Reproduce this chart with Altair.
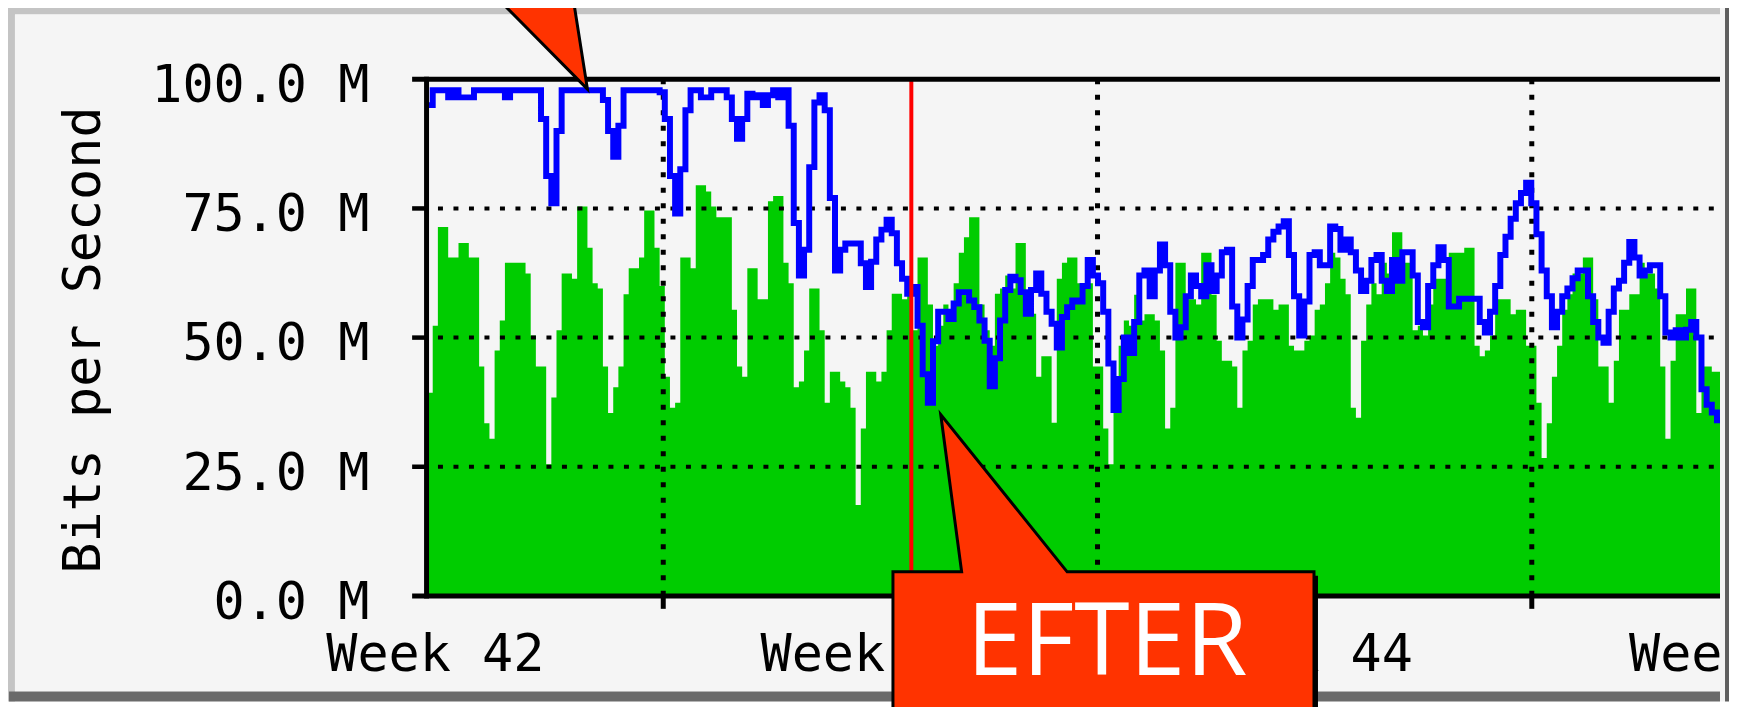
import altair as alt
import pandas as pd

# ---------------- data (one value per 2-hour column, Mbit/s) ----------------
green = [
    39.3, 52.3, 71.4, 71.4, 65.5, 65.5, 68.3, 68.3, 65.5, 65.5,
    44.4, 33.4, 30.4, 47.5, 53.3, 64.5, 64.5, 64.5, 64.5, 62.4,
    50.4, 44.4, 44.4, 25.5, 38.4, 51.4, 62.4, 62.4, 61.4, 75.4,
    75.4, 67.4, 60.5, 59.5, 44.4, 35.4, 40.4, 44.4, 58.4, 63.4,
    63.4, 65.5, 74.6, 74.6, 67.4, 60.0, 42.4, 36.4, 37.4, 65.5,
    65.5, 63.4, 79.5, 79.5, 78.3, 75.4, 73.3, 73.3, 73.3, 55.4,
    44.4, 42.4, 63.4, 63.4, 57.4, 57.4, 76.4, 77.4, 77.4, 64.5,
    60.5, 40.4, 41.5, 47.5, 59.5, 59.5, 51.4, 37.4, 43.4, 43.4,
    41.5, 40.4, 36.4, 17.6, 32.4, 43.4, 43.4, 41.5, 43.4, 51.4,
    58.5, 58.5, 57.4, 60.0, 51.4, 65.5, 65.5, 56.4, 48.4, 52.3,
    56.4, 55.4, 60.5, 66.4, 69.4, 73.3, 73.3, 56.4, 51.4, 48.4,
    58.5, 59.5, 62.0, 59.5, 68.3, 68.3, 57.4, 54.6, 42.4, 46.4,
    46.4, 33.5, 61.4, 64.5, 65.5, 65.5, 60.5, 60.5, 60.5, 44.4,
    44.4, 32.4, 25.5, 38.4, 48.4, 53.3, 52.3, 58.3, 53.3, 54.5,
    54.5, 53.3, 47.5, 32.4, 36.4, 64.5, 64.5, 57.4, 57.4, 56.4,
    66.4, 66.4, 58.3, 49.4, 45.5, 45.5, 44.4, 36.4, 47.5, 49.4,
    56.4, 57.4, 57.4, 57.4, 55.4, 56.4, 56.4, 48.4, 47.5, 47.5,
    49.4, 50.4, 55.4, 56.4, 60.5, 66.4, 65.5, 61.4, 58.4, 36.4,
    34.5, 49.4, 56.4, 60.5, 58.4, 64.5, 62.4, 70.4, 70.4, 64.5,
    64.5, 51.4, 52.3, 50.4, 56.4, 61.4, 61.4, 61.4, 66.4, 66.4,
    66.4, 67.4, 67.4, 48.4, 46.4, 47.5, 50.4, 57.4, 57.4, 57.4,
    54.5, 55.4, 55.4, 48.4, 48.4, 37.4, 26.7, 33.4, 42.4, 48.4,
    55.4, 58.4, 62.4, 62.4, 65.5, 65.5, 57.4, 44.4, 44.4, 37.4,
    45.5, 55.4, 55.4, 58.4, 58.4, 64.5, 62.4, 62.4, 59.5, 44.4,
    30.4, 45.5, 54.5, 54.5, 59.5, 59.5, 35.4, 44.4, 44.4, 43.4,
    43.4,
]
blue = [
    95.0, 97.9, 97.9, 97.9, 96.5, 97.9, 96.5, 96.5, 96.5, 97.9,
    97.9, 97.9, 97.9, 97.9, 97.9, 96.5, 97.9, 97.9, 97.9, 97.9,
    97.9, 97.9, 92.3, 81.3, 76.0, 90.0, 97.9, 97.9, 97.9, 97.9,
    97.9, 97.9, 97.9, 97.9, 96.0, 90.0, 85.0, 91.0, 97.9, 97.9,
    97.9, 97.9, 97.9, 97.9, 97.9, 97.5, 92.3, 81.3, 74.0, 82.6,
    94.0, 97.9, 97.9, 96.5, 96.5, 97.9, 97.9, 97.9, 96.5, 92.3,
    88.5, 92.3, 97.2, 96.5, 96.9, 95.0, 96.9, 97.9, 96.5, 97.9,
    91.0, 72.2, 62.0, 67.0, 83.0, 95.5, 96.9, 94.0, 77.0, 63.0,
    67.0, 68.2, 68.2, 68.2, 64.4, 59.8, 64.7, 69.0, 70.9, 72.8,
    70.2, 64.4, 61.4, 58.5, 59.8, 52.3, 42.9, 37.4, 49.3, 55.0,
    55.0, 53.6, 56.6, 58.8, 58.8, 57.2, 55.9, 53.3, 49.4, 40.6,
    46.0, 53.3, 59.2, 61.8, 61.1, 58.8, 54.6, 59.2, 62.4, 58.5,
    55.0, 52.7, 48.1, 54.0, 55.9, 57.2, 57.0, 60.0, 65.0, 62.0,
    60.5, 55.0, 45.0, 36.0, 42.0, 50.0, 47.0, 53.0, 62.0, 63.0,
    58.0, 63.0, 68.0, 64.0, 55.0, 50.0, 52.0, 58.0, 62.0, 60.0,
    58.0, 64.0, 59.0, 62.0, 66.5, 67.0, 56.0, 50.0, 53.5, 60.0,
    65.0, 65.0, 66.0, 69.0, 70.5, 71.5, 72.5, 66.0, 58.0, 50.4,
    57.0, 66.0, 66.5, 64.0, 64.0, 71.5, 71.0, 67.0, 69.0, 66.5,
    63.0, 59.0, 61.0, 65.0, 66.0, 61.0, 59.0, 65.0, 61.0, 66.5,
    66.5, 62.0, 53.0, 52.0, 60.0, 64.0, 67.5, 65.0, 56.0, 56.0,
    57.5, 57.5, 57.5, 57.5, 53.0, 51.0, 55.0, 60.0, 66.0, 69.5,
    73.0, 76.0, 78.0, 80.0, 76.0, 70.0, 63.0, 58.0, 52.0, 55.0,
    58.0, 59.5, 61.5, 63.0, 63.0, 58.0, 53.0, 50.0, 49.0, 55.0,
    59.5, 61.0, 64.5, 68.5, 65.5, 62.0, 63.0, 64.0, 64.0, 58.0,
    51.0, 50.0, 51.4, 50.0, 51.5, 53.0, 50.0, 40.0, 37.0, 35.5,
    34.0,
]
y_ticks = [0, 25, 50, 75, 100]
y_tick_labels = ["0.0 M", "25.0 M", "50.0 M", "75.0 M", "100.0 M"]
grid_values = [25, 50, 75]
week_starts = [45.7, 129.9, 214.1]
week_label_pos = [1.5, 85.7, 169.9, 254.1]
week_labels = ["Week 42", "Week 43", "Week 44", "Week 45"]
marker_col = 93.8
before_tip = [31.0, 98.1]
after_tip = [99.5, 35.1]
y_title = "Bits per Second"
after_text = "EFTER"

# ---------------- chart ----------------
W, H = 1300, 519
MONO = "DejaVu Sans Mono"
FS = 52
xs = alt.Scale(domain=[-0.29, 250.6], nice=False, zero=False)
ys = alt.Scale(domain=[0, 100], nice=False, zero=False)

n = len(green)
df = pd.DataFrame({
    "k": list(range(n)) + [n],
    "inb": green + [green[-1]],
    "outb": blue + [blue[-1]],
})
one = pd.DataFrame({"a": [0]})


def X(field):
    return alt.X(field, type="quantitative", scale=xs, axis=None)


def Y(field):
    return alt.Y(field, type="quantitative", scale=ys, axis=None)


def box(x1, x2, y1, y2, color):
    return alt.Chart(one).mark_rect(color=color).encode(
        x=alt.value(x1), x2=alt.value(x2), y=alt.value(y1), y2=alt.value(y2)
    )


frame = [
    box(-424, W, -75, -65, "#c4c4c4"),
    box(-424, -413, -75, 625, "#c4c4c4"),
    box(-413, W, -65, 615, "#f5f5f5"),
    box(-419, W, 615, 625, "#6a6a6a"),
]

area = alt.Chart(df).mark_area(interpolate="step-after", color="#00cc00", clip=True).encode(
    x=X("k"), y=Y("inb")
)

hgrid = alt.Chart(pd.DataFrame({"v": grid_values})).mark_rule(
    color="black", strokeWidth=4, strokeDash=[5, 10.57], strokeDashOffset=3.6
).encode(y=Y("v"), x=alt.value(0), x2=alt.value(W))

vgrid = alt.Chart(pd.DataFrame({"k": week_starts, "top": [100] * 3, "bot": [0] * 3})).mark_rule(
    color="black", strokeWidth=5, strokeDash=[5, 10.57]
).encode(x=X("k"), y=Y("top"), y2="bot:Q")

line = alt.Chart(df).mark_line(
    interpolate="step-after", color="#0000ff", strokeWidth=6, clip=True
).encode(x=X("k"), y=Y("outb"))

red = alt.Chart(pd.DataFrame({"k": [marker_col], "top": [100], "bot": [0]})).mark_rule(
    color="#ff0000", strokeWidth=4
).encode(x=X("k"), y=Y("top"), y2="bot:Q")

hlines = alt.Chart(pd.DataFrame({"v": [0, 100]})).mark_rule(color="black", strokeWidth=5).encode(
    y=Y("v"), x=alt.value(-14), x2=alt.value(W)
)
vaxis = alt.Chart(one).mark_rule(color="black", strokeWidth=5).encode(
    x=alt.value(0.5), y=alt.value(-2.5), y2=alt.value(H + 2.5)
)
yticks = alt.Chart(pd.DataFrame({"v": grid_values})).mark_rule(color="black", strokeWidth=4.5).encode(
    y=Y("v"), x=alt.value(-14), x2=alt.value(0)
)
xticks = alt.Chart(pd.DataFrame({"k": week_starts})).mark_rule(color="black", strokeWidth=5).encode(
    x=X("k"), y=alt.value(H), y2=alt.value(H + 13)
)

ylabels = alt.Chart(pd.DataFrame({"v": y_ticks, "t": y_tick_labels})).mark_text(
    align="right", baseline="alphabetic", font=MONO, fontSize=FS, dy=23, color="black"
).encode(y=Y("v"), x=alt.value(-57), text="t:N")

xlabels = alt.Chart(pd.DataFrame({"k": week_label_pos, "t": week_labels})).mark_text(
    align="center", baseline="alphabetic", font=MONO, fontSize=FS, color="black"
).encode(x=X("k"), y=alt.value(594), text="t:N")

ytitle = alt.Chart(one).mark_text(
    angle=270, align="center", baseline="alphabetic", font=MONO, fontSize=FS,
    color="black", text=y_title
).encode(x=alt.value(-328), y=alt.value(262))

bdf = pd.DataFrame({"k": [before_tip[0]], "v": [before_tip[1]]})
adf = pd.DataFrame({"k": [after_tip[0]], "v": [after_tip[1]]})

before_arrow = alt.Chart(bdf).mark_point(
    shape="M0,0L-107,-108L-17,-108Z", size=4, filled=True, fill="#ff3300",
    stroke="black", strokeWidth=3, opacity=1, fillOpacity=1, strokeOpacity=1
).encode(x=X("k"), y=Y("v"))

after_shadow = alt.Chart(adf).mark_point(
    shape="M-44,162L379,162L379,330L-44,330Z", size=4, filled=True, fill="black",
    opacity=1, fillOpacity=1
).encode(x=X("k"), y=Y("v"))

after_box = alt.Chart(adf).mark_point(
    shape="M-48,158L21,158L0,0L127,158L375,158L375,330L-48,330Z", size=4, filled=True,
    fill="#ff3300", stroke="black", strokeWidth=3, opacity=1, fillOpacity=1, strokeOpacity=1
).encode(x=X("k"), y=Y("v"))

after_label = alt.Chart(adf).mark_text(
    align="center", baseline="alphabetic", font="Open Sans", fontSize=101, color="white",
    dx=167, dy=262, text=after_text
).encode(x=X("k"), y=Y("v"))

right_edge = [
    box(W, W + 5, -75, 625, "#f4f4f4"),
    box(W + 5, W + 9, -75, 625, "#5e5e5e"),
]

chart = alt.layer(
    *frame, area, hgrid, vgrid, line, red, hlines, vaxis, yticks, xticks,
    ylabels, xlabels, ytitle, before_arrow, after_shadow, after_box, after_label,
    *right_edge
).properties(
    width=W, height=H,
    padding={"left": 420, "top": 70, "right": 9, "bottom": 110},
    autosize=alt.AutoSizeParams(type="none"),
    background="white",
).configure_view(strokeWidth=0)

chart.save("out.html", embed_options={"renderer": "svg", "actions": False})
